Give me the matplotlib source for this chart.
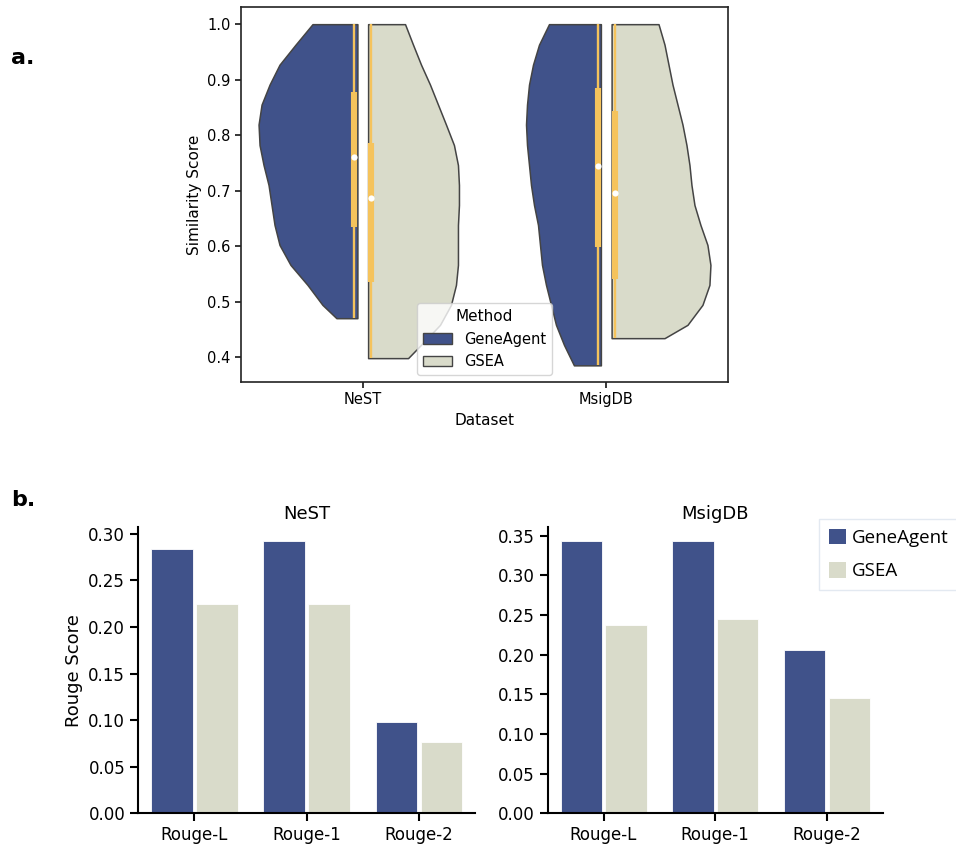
import matplotlib
matplotlib.use("Agg")
import matplotlib.pyplot as plt
from matplotlib.patches import Patch

# ---- panel a: violin profiles (score level -> relative density)
datasets = ["NeST", "MsigDB"]
methods = ["GeneAgent", "GSEA"]

levels = [1.0, 0.963, 0.927, 0.891, 0.855, 0.819, 0.782, 0.746, 0.710,
          0.674, 0.638, 0.602, 0.566, 0.530, 0.494, 0.458, 0.422]

nest_ga_y = levels[:15] + [0.470]
nest_ga_d = [0.45, 0.62, 0.78, 0.88, 0.96, 0.99, 0.98, 0.94, 0.89,
             0.86, 0.83, 0.78, 0.67, 0.50, 0.35, 0.21]
nest_gsea_y = levels + [0.398]
nest_gsea_d = [0.37, 0.45, 0.53, 0.62, 0.70, 0.78, 0.86, 0.90, 0.91,
               0.91, 0.90, 0.90, 0.90, 0.88, 0.83, 0.72, 0.53, 0.40]
msig_ga_y = levels + [0.385]
msig_ga_d = [0.52, 0.62, 0.68, 0.72, 0.74, 0.75, 0.74, 0.72, 0.70,
             0.67, 0.63, 0.61, 0.59, 0.55, 0.50, 0.45, 0.37, 0.27]
msig_gsea_y = levels[:16] + [0.434]
msig_gsea_d = [0.47, 0.53, 0.57, 0.61, 0.66, 0.71, 0.75, 0.78, 0.80,
               0.83, 0.89, 0.96, 0.99, 0.98, 0.91, 0.76, 0.53]

# box stats: q1, median, q3
nest_ga_box = [0.635, 0.761, 0.877]
nest_gsea_box = [0.536, 0.687, 0.786]
msig_ga_box = [0.599, 0.745, 0.885]
msig_gsea_box = [0.540, 0.696, 0.844]

# ---- panel b: rouge scores
rouge_metrics = ["Rouge-L", "Rouge-1", "Rouge-2"]
nest_geneagent = [0.284, 0.2925, 0.098]
nest_gsea = [0.225, 0.225, 0.077]
msig_geneagent = [0.343, 0.343, 0.206]
msig_gsea = [0.2375, 0.245, 0.145]

BLUE = "#40528A"
BEIGE = "#D9DBCA"
GOLD = "#F5C35C"
EDGE = "#444444"

fig = plt.figure(figsize=(9.56, 8.5), dpi=100)

# ================= panel a
ax = fig.add_axes([0.2521, 0.5506, 0.5094, 0.4412])
W = 0.41
GAP = 0.022
violins = [
    (0, -1, nest_ga_y, nest_ga_d, nest_ga_box, BLUE),
    (0, 1, nest_gsea_y, nest_gsea_d, nest_gsea_box, BEIGE),
    (1, -1, msig_ga_y, msig_ga_d, msig_ga_box, BLUE),
    (1, 1, msig_gsea_y, msig_gsea_d, msig_gsea_box, BEIGE),
]
for pos, side, ys, ds, box, col in violins:
    inner = pos + side * GAP
    outer = [inner + side * d * W for d in ds]
    ax.fill_betweenx(ys, inner, outer, facecolor=col, edgecolor=EDGE, linewidth=1.1, zorder=1)
    xb = inner + side * 0.012
    ax.plot([xb, xb], [min(ys), max(ys)], color=GOLD, lw=1.7, zorder=2, solid_capstyle="butt")
    ax.plot([xb, xb], [box[0], box[2]], color=GOLD, lw=4.4, zorder=2, solid_capstyle="butt")
    ax.scatter([xb], [box[1]], s=20, color="white", zorder=3, linewidths=0)

ax.set_xlim(-0.5, 1.5)
ax.set_ylim(0.355, 1.031)
ax.set_xticks(range(len(datasets)))
ax.set_xticklabels(datasets)
ax.set_yticks([0.4, 0.5, 0.6, 0.7, 0.8, 0.9, 1.0])
ax.tick_params(labelsize=10.5, width=1.1, length=4)
for s in ax.spines.values():
    s.set_linewidth(1.2)
    s.set_color("#222222")
ax.set_xlabel("Dataset", fontsize=11)
ax.set_ylabel("Similarity Score", fontsize=11)
handles = [Patch(facecolor=BLUE, edgecolor=EDGE, label=methods[0]),
           Patch(facecolor=BEIGE, edgecolor=EDGE, label=methods[1])]
ax.legend(handles=handles, title="Method", loc="lower center", fontsize=10.5,
          title_fontsize=11, framealpha=0.8)

fig.text(0.012, 0.925, "a.", fontsize=16, fontweight="bold")
fig.text(0.012, 0.405, "b.", fontsize=16, fontweight="bold")

# ================= panel b
def rouge_axes(rect, ga, gsea, title, yticks):
    bx = fig.add_axes(rect)
    xs = list(range(len(rouge_metrics)))
    bx.bar([x - 0.2 for x in xs], ga, width=0.37, color=BLUE, edgecolor="white", linewidth=0.6)
    bx.bar([x + 0.2 for x in xs], gsea, width=0.37, color=BEIGE, edgecolor="white", linewidth=0.6)
    bx.set_xlim(-0.5, 2.5)
    bx.set_xticks(xs)
    bx.set_xticklabels(rouge_metrics)
    bx.set_yticks(yticks)
    bx.set_yticklabels([f"{t:.2f}" for t in yticks])
    bx.spines[["top", "right"]].set_visible(False)
    for s in ["left", "bottom"]:
        bx.spines[s].set_linewidth(1.5)
    bx.tick_params(labelsize=12, width=1.5, length=6)
    bx.set_title(title, fontsize=13, pad=6)
    return bx

b1 = rouge_axes([0.1447, 0.0432, 0.3522, 0.3364], nest_geneagent, nest_gsea, "NeST",
                [0.0, 0.05, 0.10, 0.15, 0.20, 0.25, 0.30])
b1.set_ylim(0, 0.307)
b1.set_ylabel("Rouge Score", fontsize=13)
b2 = rouge_axes([0.5729, 0.0432, 0.3504, 0.3364], msig_geneagent, msig_gsea, "MsigDB",
                [0.0, 0.05, 0.10, 0.15, 0.20, 0.25, 0.30, 0.35])
b2.set_ylim(0, 0.3606)

bh = [Patch(facecolor=BLUE, label=methods[0]), Patch(facecolor=BEIGE, label=methods[1])]
fig.legend(handles=bh, loc="upper left", bbox_to_anchor=(0.857, 0.389),
           prop={"family": "Open Sans", "size": 13.5}, frameon=True, fancybox=False,
           edgecolor="#DCE4EE", handlelength=0.9, handleheight=0.9, handletextpad=0.35,
           labelspacing=0.8, borderpad=0.5, borderaxespad=0)

fig.savefig("out.png", dpi=100)
